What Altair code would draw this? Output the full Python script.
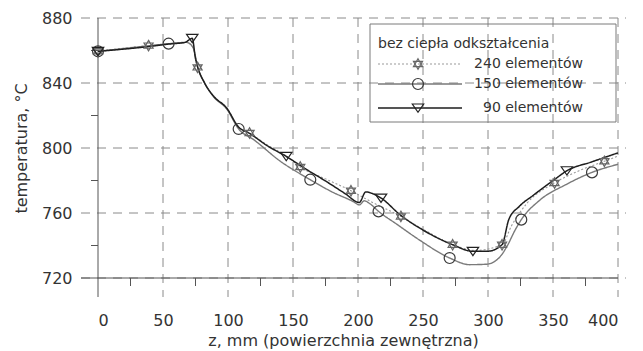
import altair as alt
import pandas as pd

# Temperature along z (outer surface), no deformation heat, three mesh densities
z_240 = [0, 38.9, 55, 68, 73, 76.6, 82, 89, 99, 108, 116.6, 130, 145, 155.6, 175, 194.6,
         210, 233, 250, 272.8, 290, 310.8, 318, 330, 351.2, 370, 389.5, 400]
t_240 = [859.5, 863, 864, 865, 862, 849.6, 840, 831.8, 824.6, 813, 809.2, 802, 795, 788.3, 781, 773.7,
         767, 757.9, 750, 740.5, 737, 740.5, 752, 766, 778.5, 786, 791.8, 795]

z_150 = [0, 38, 54.3, 68, 73, 77, 82, 89, 99, 108.2, 120, 140, 163.3, 180, 196.4, 201, 205, 209,
         215.8, 230, 248, 270.5, 286, 299, 309.5, 314.6, 321, 325.6, 340, 360, 380, 400]
t_150 = [859.5, 862.8, 864.2, 865, 862, 849, 840, 831.5, 824, 811.7, 805, 792, 780.5, 773, 767, 765, 767.5, 765.8,
         761, 753, 743, 732.3, 728.2, 728.5, 733.3, 739.5, 749.7, 755.9, 768, 777.5, 785, 790]

z_90 = [0, 40, 55, 67, 72.5, 75, 76.6, 82, 89, 99, 108, 116.6, 130, 144.8, 160, 175, 190, 201, 206, 211,
        217.7, 233, 250, 272.8, 288.4, 300, 310.8, 316, 324, 335, 351, 360.7, 380, 400]
t_90 = [859.5, 862.5, 864, 865, 867.5, 855, 850, 840, 831.8, 824.6, 813, 809, 801.5, 794.8, 787, 779.7, 772, 766.5, 773, 772,
        769.2, 758.5, 749.5, 740.5, 736.4, 736.5, 740.5, 756, 764, 771, 780.5, 786, 791.5, 797]

# Marker positions on each curve
mz_240 = [0, 38.9, 76.6, 116.6, 155.6, 194.6, 233, 272.8, 310.8, 351.2, 389.5]
mt_240 = [859.5, 863, 849.6, 809.2, 788.3, 773.7, 757.9, 740.5, 740.5, 778.5, 791.8]
mz_150 = [0, 54.3, 108.2, 163.3, 215.8, 270.5, 325.6, 380]
mt_150 = [859.5, 864.2, 811.7, 780.5, 761, 732.3, 755.9, 785]
mz_90 = [0, 72.5, 144.8, 217.7, 288.4, 360.7]
mt_90 = [859.5, 867.5, 794.8, 769.2, 736.4, 786]

labels = ["240 elementów", "150 elementów", "90 elementów"]
legend_title = "bez ciepła odkształcenia"

x_major = [0, 50, 100, 150, 200, 250, 300, 350, 400]
x_minor = [25, 75, 125, 175, 225, 275, 325, 375]
y_major = [720, 760, 800, 840, 880]
y_minor = [740, 780, 820, 860]

W, H = 520, 260
FONT = "DejaVu Sans"
TXT = "#333333"
GRID = "#8a8a8a"

HEXAGRAM = "M0,-1L0.866,0.5L-0.866,0.5Z M0,1L-0.866,-0.5L0.866,-0.5Z"
TRI_DOWN = "M-1,-0.7L1,-0.7L0,0.75Z"

xscale = alt.Scale(domain=[0, 400], nice=False, zero=False)
yscale = alt.Scale(domain=[720, 880], nice=False, zero=False)
xaxis = alt.Axis(values=x_major, grid=False, ticks=False, domain=False, labelPadding=34,
                 labelFont=FONT, labelFontSize=16, labelColor=TXT,
                 title="z, mm (powierzchnia zewnętrzna)", titleFont=FONT, titleFontSize=16,
                 titleFontWeight="normal", titleColor=TXT, titleX=245, titleY=67,
                 titleAlign="center", titleBaseline="alphabetic")
yaxis = alt.Axis(values=y_major, grid=False, ticks=False, domain=False, labelPadding=26,
                 labelFont=FONT, labelFontSize=16, labelColor=TXT,
                 title="temperatura, °C", titleFont=FONT, titleFontSize=16,
                 titleFontWeight="normal", titleColor=TXT, titleX=-77, titleY=H / 2,
                 titleAngle=270, titleAlign="center", titleBaseline="middle")


def X():
    return alt.X("z:Q", scale=xscale, axis=xaxis)


def Y():
    return alt.Y("T:Q", scale=yscale, axis=yaxis)


def one_row(**kw):
    return alt.Chart(pd.DataFrame({"k": [0], **{k: [v] for k, v in kw.items()}}))


layers = []

# dashed grid, extending a little past the axes
layers.append(alt.Chart(pd.DataFrame({"z": x_major[1:]})).mark_rule(
    color=GRID, strokeWidth=1, strokeDash=[9, 7]).encode(x=X(), y=alt.value(0), y2=alt.value(H + 19)))
layers.append(alt.Chart(pd.DataFrame({"T": y_major})).mark_rule(
    color=GRID, strokeWidth=1, strokeDash=[9, 7]).encode(y=Y(), x=alt.value(-17), x2=alt.value(W + 8)))

# axis lines and minor ticks
layers.append(one_row().mark_rule(color="#555555", strokeWidth=1).encode(
    x=alt.value(0), y=alt.value(0), y2=alt.value(H + 19)))
layers.append(one_row().mark_rule(color="#555555", strokeWidth=1).encode(
    y=alt.value(H), x=alt.value(-17), x2=alt.value(W)))
layers.append(alt.Chart(pd.DataFrame({"z": x_minor})).mark_rule(color="#555555", strokeWidth=1).encode(
    x=X(), y=alt.value(H), y2=alt.value(H + 8)))
layers.append(alt.Chart(pd.DataFrame({"T": y_minor})).mark_rule(color="#555555", strokeWidth=1).encode(
    y=Y(), x=alt.value(-7), x2=alt.value(0)))

# series styles: line colour, width, dash, marker path / shape, marker stroke
styles = [
    dict(z=z_240, t=t_240, mz=mz_240, mt=mt_240, color="#9a9a9a", width=1.1, dash=[2, 2],
         shape=HEXAGRAM, size=110, mstroke="#666666"),
    dict(z=z_150, t=t_150, mz=mz_150, mt=mt_150, color="#7a7a7a", width=1.4, dash=[1, 0],
         shape="circle", size=120, mstroke="#3a3a3a"),
    dict(z=z_90, t=t_90, mz=mz_90, mt=mt_90, color="#1e1e1e", width=1.5, dash=[1, 0],
         shape=TRI_DOWN, size=130, mstroke="#222222"),
]

for s in styles:
    layers.append(alt.Chart(pd.DataFrame({"z": s["z"], "T": s["t"]})).mark_line(
        color=s["color"], strokeWidth=s["width"], strokeDash=s["dash"], interpolate="monotone"
    ).encode(x=X(), y=Y()))

for s in [styles[1], styles[0], styles[2]]:
    layers.append(alt.Chart(pd.DataFrame({"z": s["mz"], "T": s["mt"]})).mark_point(
        shape=s["shape"], size=s["size"], filled=False, stroke=s["mstroke"], strokeWidth=1.2, opacity=1
    ).encode(x=X(), y=Y()))

# legend box
layers.append(one_row().mark_rect(fillOpacity=0, stroke="#7a7a7a", strokeWidth=1).encode(
    x=alt.value(272), x2=alt.value(518), y=alt.value(6), y2=alt.value(104)))
layers.append(one_row(label=legend_title).mark_text(
    align="left", baseline="alphabetic", font=FONT, fontSize=14, color=TXT).encode(
    x=alt.value(280), y=alt.value(30), text="label:N"))

row_y = [46, 66, 90]
for s, lab, ry in zip(styles, labels, row_y):
    layers.append(one_row().mark_rule(color=s["color"], strokeWidth=s["width"], strokeDash=s["dash"]).encode(
        x=alt.value(280), x2=alt.value(364), y=alt.value(ry)))
    layers.append(one_row().mark_point(shape=s["shape"], size=s["size"], filled=False,
                                       stroke=s["mstroke"], strokeWidth=1.2, opacity=1).encode(
        x=alt.value(320), y=alt.value(ry)))
    layers.append(one_row(label=lab).mark_text(
        align="right", baseline="middle", font=FONT, fontSize=14, color=TXT).encode(
        x=alt.value(485), y=alt.value(ry), text="label:N"))

chart = alt.layer(*layers).properties(
    width=W, height=H,
    autosize=alt.AutoSizeParams(type="none"),
    padding={"left": 98, "top": 18, "right": 25, "bottom": 73},
    background="white",
).configure_view(stroke=None)

chart.save("out.html", embed_options={"renderer": "svg", "actions": False})
